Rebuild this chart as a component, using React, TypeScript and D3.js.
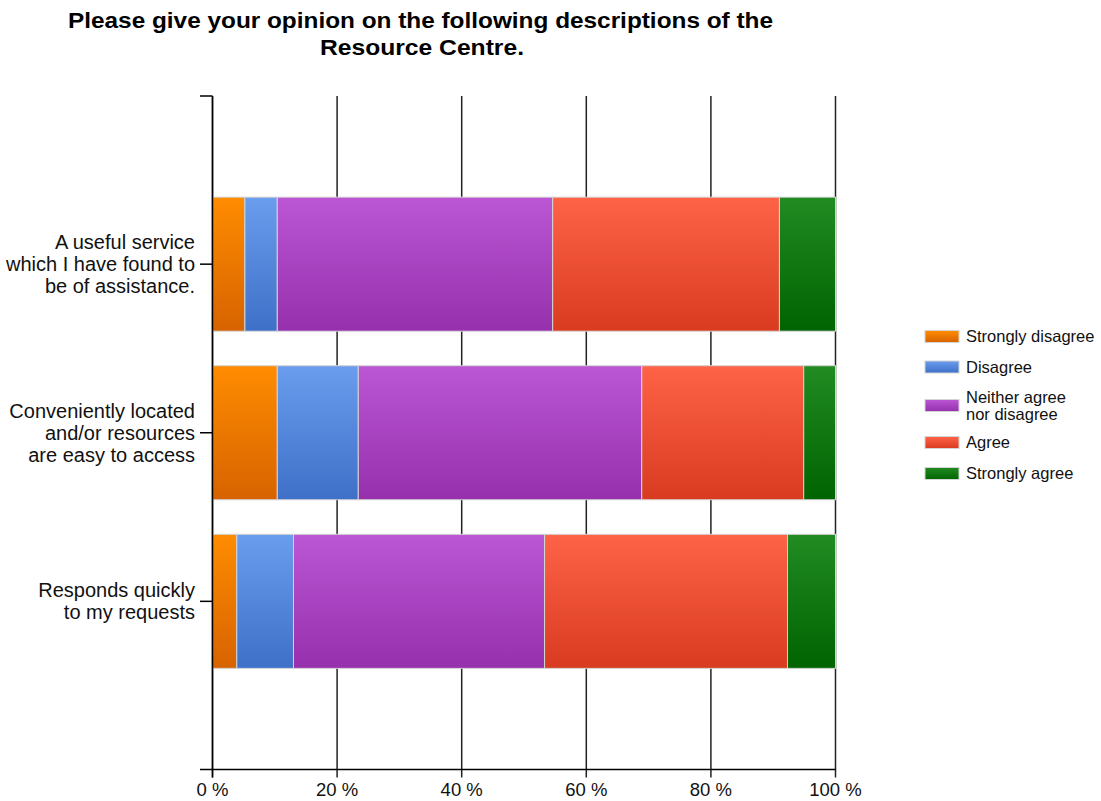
import React from "react";
import * as d3 from "d3";

const categories = [
  ["A useful service", "which I have found to", "be of assistance."],
  ["Conveniently located", "and/or resources", "are easy to access"],
  ["Responds quickly", "to my requests"],
];
const seriesNames = [
  ["Strongly disagree"],
  ["Disagree"],
  ["Neither agree", "nor disagree"],
  ["Agree"],
  ["Strongly agree"],
];
const stronglyDisagree = [5.2, 10.4, 3.9];
const disagree = [5.2, 13.0, 9.1];
const neither = [44.2, 45.5, 40.3];
const agree = [36.4, 26.0, 39.0];
const stronglyAgree = [9.0, 5.1, 7.7];
const xTicks = [0, 20, 40, 60, 80, 100];
const titleLines = ["Please give your opinion on the following descriptions of the", "Resource Centre."];

const colorsTop = ["#ff8c00", "#6a9ded", "#bb56d4", "#ff6347", "#228b22"];
const colorsBottom = ["#d76300", "#3e70c8", "#9630ad", "#d83b20", "#006400"];

export default function App() {
  const W = 1101, H = 801;
  const left = 212.5, right = 835.5, top = 96, bottom = 769.5;
  const x = d3.scaleLinear().domain([0, 100]).range([left, right]);
  const y = d3.scaleBand<number>().domain([0, 1, 2]).range([top, bottom]).paddingInner(0.205).paddingOuter(0.6);
  const seriesVals = [stronglyDisagree, disagree, neither, agree, stronglyAgree];
  const rows = categories.map((_, i) => {
    const obj: any = { idx: i };
    seriesVals.forEach((s, k) => (obj["s" + k] = s[i]));
    return obj;
  });
  const stack = d3.stack<any>().keys(["s0", "s1", "s2", "s3", "s4"])(rows);
  const font = "'Liberation Sans', Arial, sans-serif";
  const legendY = [336.5, 367, 405.5, 442.5, 473.5];
  const titleLens = [705, 204];
  const titleX = [420.5, 422];
  const titleY = [20, 47];

  return (
    <svg width={W} height={H} style={{ position: "absolute", left: 0, top: 0, background: "#fff" }} fontFamily={font}>
      <defs>
        {colorsTop.map((c, k) => (
          <linearGradient key={k} id={"g" + k} x1="0" y1="0" x2="0" y2="1">
            <stop offset="0%" stopColor={c} />
            <stop offset="100%" stopColor={colorsBottom[k]} />
          </linearGradient>
        ))}
      </defs>
      {titleLines.map((t, i) => (
        <text
          key={i}
          x={titleX[i]}
          y={titleY[i]}
          dy="0.35em"
          textAnchor="middle"
          fontSize={22}
          fontWeight="bold"
          fill="#000"
          textLength={titleLens[i]}
          lengthAdjust="spacingAndGlyphs"
        >
          {t}
        </text>
      ))}
      {/* gridlines */}
      {xTicks.map((t) => (
        <line key={t} x1={x(t)} x2={x(t)} y1={top} y2={bottom + 8} stroke="#222" strokeWidth={1.5} />
      ))}
      {/* bars */}
      {stack.map((layer, k) => (
        <g key={k}>
          {layer.map((d, i) => (
            <rect
              key={i}
              x={x(d[0])}
              y={y(i)!}
              width={x(d[1]) - x(d[0])}
              height={y.bandwidth()}
              fill={`url(#g${k})`}
              stroke="#d4d4d4"
              strokeWidth={1}
            />
          ))}
        </g>
      ))}
      {/* axes */}
      <line x1={left} x2={left} y1={top} y2={bottom + 8} stroke="#000" strokeWidth={1.5} />
      <line x1={200} x2={right} y1={bottom} y2={bottom} stroke="#000" strokeWidth={1.5} />
      <line x1={200} x2={left} y1={top} y2={top} stroke="#000" strokeWidth={1.5} />
      {categories.map((lines, i) => {
        const cy = y(i)! + y.bandwidth() / 2;
        const n = lines.length;
        return (
          <g key={i}>
            <line x1={200} x2={left} y1={cy} y2={cy} stroke="#000" strokeWidth={1.5} />
            {lines.map((ln, j) => (
              <text key={j} x={195} y={cy + (j - (n - 1) / 2) * 22} dy="0.35em" textAnchor="end" fontSize={20} fill="#111">
                {ln}
              </text>
            ))}
          </g>
        );
      })}
      {xTicks.map((t) => (
        <text key={t} x={x(t)} y={790} dy="0.35em" textAnchor="middle" fontSize={18.5} fill="#111">
          {t} %
        </text>
      ))}
      {/* legend */}
      {seriesNames.map((names, k) => (
        <g key={k}>
          <rect x={925} y={legendY[k] - 6} width={34} height={12} fill={`url(#g${k})`} stroke="#d4d4d4" strokeWidth={1} />
          {names.map((nm, j) => (
            <text key={j} x={966} y={legendY[k] + (j - (names.length - 1) / 2) * 17} dy="0.35em" fontSize={16.5} fill="#111">
              {nm}
            </text>
          ))}
        </g>
      ))}
    </svg>
  );
}
